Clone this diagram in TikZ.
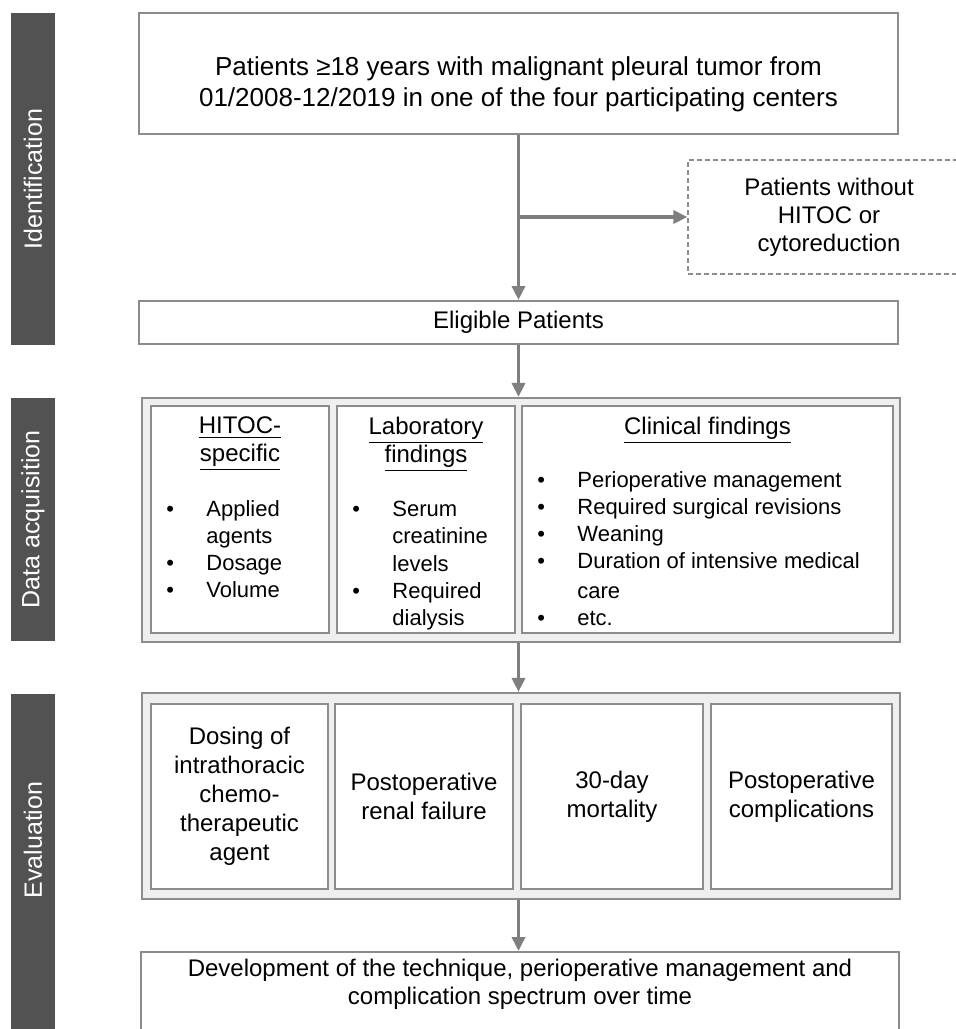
\documentclass[tikz,border=0pt]{standalone}
\usepackage{fontspec}
\setmainfont{Liberation Sans}
\usetikzlibrary{arrows.meta}

\definecolor{bargray}{HTML}{525252}
\definecolor{linegray}{HTML}{8C8C8C}
\definecolor{arrgray}{HTML}{7F7F7F}
\definecolor{groupfill}{HTML}{EFEFEF}

\tikzset{
	box/.style={draw=linegray,line width=1pt,fill=white,inner sep=2pt,align=center,font=\fontsize{12}{14}\selectfont},
	exclbox/.style={draw=linegray,line width=0.6pt,dash pattern=on 2.5pt off 1.5pt,align=center,font=\fontsize{12}{14}\selectfont},
	groupbox/.style={draw=linegray,line width=1.1pt,fill=groupfill},
	evalbox/.style={box,font=\fontsize{12}{14.5}\selectfont},
	sidelabel/.style={rotate=90,text=white,font=\fontsize{12.5}{15}\selectfont},
	listtext/.style={anchor=north west,inner sep=0pt,font=\fontsize{11}{13.5}\selectfont},
	headtext/.style={inner sep=0pt,align=center,font=\fontsize{12}{14}\selectfont},
	arr/.style={draw=arrgray,line width=1.7pt,-{Triangle[width=6.5pt,length=7pt]}}
}

\begin{document}
\begin{tikzpicture}[x=0.5pt,y=-0.5pt]
	\useasboundingbox (0,0) rectangle (955,1029);
	
	% side bars
	\fill[bargray] (11,13) rectangle (55,345);
	\fill[bargray] (11,398) rectangle (55,641);
	\fill[bargray] (11,694) rectangle (55,1040);
	\node[sidelabel] (lblid) at (33,179) {Identification};
	\node[sidelabel] (lbldata) at (33,519.5) {Data acquisition};
	\node[sidelabel] (lbleval) at (33,840) {Evaluation};
	
	% identification
	\node[box,minimum width=379.5pt,minimum height=60.5pt] (top) at (518.5,73.5) {};
	\node[headtext,font=\fontsize{13}{15.5}\selectfont] (toptxt) at (518.5,84) {Patients ≥18 years with malignant pleural tumor from\\01/2008-12/2019 in one of the four participating centers};
	\node[exclbox,minimum width=141pt,minimum height=57pt] (excl) at (829,217) {Patients without\\HITOC or\\cytoreduction};
	\node[box,minimum width=379.5pt,minimum height=21.5pt] (elig) at (518.5,322.5) {Eligible Patients};
	
	% data acquisition
	\node[groupbox,minimum width=379pt,minimum height=122pt] (data) at (521,520) {};
	\node[box,minimum width=89pt,minimum height=113.5pt] (hitoc) at (240,519.5) {};
	\node[box,minimum width=89pt,minimum height=113.5pt] (lab) at (426,519.5) {};
	\node[box,minimum width=185.5pt,minimum height=113.5pt] (clin) at (707.5,519.5) {};
	
	\node[headtext] (hitochd) at (240,444) {\underline{HITOC-}\\\underline{specific}};
	\node[headtext] (labhd) at (426,444) {\underline{Laboratory}\\\underline{findings}};
	\node[headtext] (clinhd) at (707.5,430) {\underline{Clinical findings}};
	
	\node[listtext] (hitoclist) at (166,497) {\begin{tabular}[t]{@{}p{20pt}@{}l@{}}
		\textbullet & Applied\\
		& agents\\
		\textbullet & Dosage\\
		\textbullet & Volume
	\end{tabular}};
	\node[listtext] (lablist) at (352,497) {\begin{tabular}[t]{@{}p{20pt}@{}l@{}}
		\textbullet & Serum\\
		& creatinine\\[0.5pt]
		& levels\\
		\textbullet & Required\\
		& dialysis
	\end{tabular}};
	\node[listtext] (clinlist) at (537,468) {\begin{tabular}[t]{@{}p{20pt}@{}l@{}}
		\textbullet & Perioperative management\\
		\textbullet & Required surgical revisions\\
		\textbullet & Weaning\\
		\textbullet & Duration of intensive medical\\[1.5pt]
		& care\\
		\textbullet & etc.
	\end{tabular}};
	
	% evaluation
	\node[groupbox,minimum width=379pt,minimum height=103pt] (eval) at (521,796) {};
	\node[evalbox,minimum width=88.5pt,minimum height=92.5pt] (dosing) at (239.5,796.5) {Dosing of\\intrathoracic\\chemo-\\therapeutic\\agent};
	\node[evalbox,minimum width=89pt,minimum height=92.5pt] (renal) at (424,796.5) {Postoperative\\renal failure};
	\node[evalbox,minimum width=91pt,minimum height=92.5pt] (mort) at (612,796.5) {30-day\\mortality};
	\node[evalbox,minimum width=90.5pt,minimum height=92.5pt] (compl) at (801.5,796.5) {Postoperative\\complications};
	
	\node[box,minimum width=379pt,minimum height=44pt] (final) at (520,996) {};
	\node[headtext] (finaltxt) at (520,984.5) {Development of the technique, perioperative management and\\complication spectrum over time};
	
	% arrows
	\draw[arr] (top.south) -- (top.south |- elig.north);
	\draw[arr] (top.south |- excl.west) -- (excl.west);
	\draw[arr] (top.south |- elig.south) -- (top.south |- data.north);
	\draw[arr] (top.south |- data.south) -- (top.south |- eval.north);
	\draw[arr] (top.south |- eval.south) -- (top.south |- final.north);
\end{tikzpicture}
\end{document}
